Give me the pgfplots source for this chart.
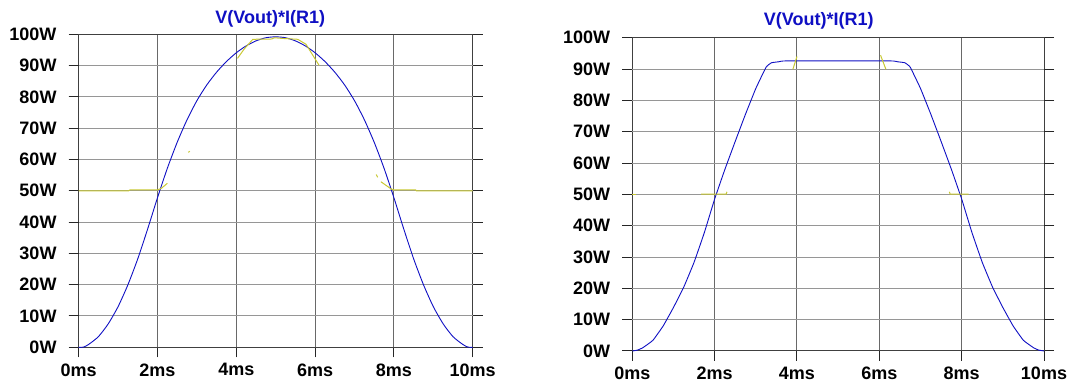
\documentclass[border=0pt]{standalone}
\usepackage{fontspec}
\setmainfont{Liberation Sans}
\usepackage{pgfplots}
\pgfplotsset{compat=1.18}
\definecolor{trblue}{RGB}{15,15,195}
\definecolor{tryel}{RGB}{200,200,50}
\definecolor{vgrid}{RGB}{105,105,105}
\definecolor{hgrid}{RGB}{150,150,150}
\pgfplotsset{
  spice/.style={
    anchor=south west, scale only axis,
    xmin=0, xmax=10, ymin=0, ymax=100,
    xtick={0,2,4,6,8,10}, ytick={0,10,20,30,40,50,60,70,80,90,100},
    xticklabels={0ms,2ms,4ms,6ms,8ms,10ms},
    yticklabels={0W,10W,20W,30W,40W,50W,60W,70W,80W,90W,100W},
    tick align=outside, major tick length=10pt,
    xtick pos=left, ytick pos=both,
    xmajorgrids=true, ymajorgrids=false,
    major grid style={vgrid, line width=1pt},
    extra y ticks={10,20,30,40,50,60,70,80,90},
    extra y tick labels={},
    extra y tick style={ymajorgrids=true, major grid style={hgrid, line width=1pt}},
    tick style={black!85, line width=1pt},
    axis line style={black!75, line width=1pt},
    ticklabel style={font=\bfseries\fontsize{18}{20}\selectfont, text=black},
    yticklabel style={inner sep=0pt, xshift=-12pt},
    xticklabel style={inner sep=0pt, yshift=-6pt},
    title style={font=\bfseries\fontsize{18}{20}\selectfont, text=trblue, anchor=base, inner sep=0pt},
    clip=false,
  },
  blue/.style={trblue, line width=0.9pt, mark=none, smooth, tension=0.4},
  yel/.style={tryel, line width=1pt, mark=none},
}
\begin{document}
\begin{tikzpicture}
\path[use as bounding box] (0,0) rectangle (1085pt,385pt);
% ---------- left ----------
\begin{axis}[spice, at={(78.7pt,37.7pt)}, width=394pt, height=313pt,
  title={V(Vout)*I(R1)}, title style={at={(0.486,1)}, yshift=5pt}]
\addplot[blue] coordinates {
(0,0) (0.12,0.05) (0.25,0.9) (0.5,3.4) (0.75,7.5) (1.0,13.0) (1.25,20.0) (1.5,28.3)
(1.75,37.8) (2.0,47.8) (2.25,57.2) (2.5,65.5) (2.75,72.7) (3.0,78.8) (3.25,83.8)
(3.5,87.9) (3.75,91.3) (4.0,94.1) (4.25,96.3) (4.5,97.9) (4.75,98.9) (5.0,99.2)
(5.25,98.9) (5.5,97.9) (5.75,96.3) (6.0,94.1) (6.25,91.3) (6.5,87.9) (6.75,83.8)
(7.0,78.8) (7.25,72.7) (7.5,65.5) (7.75,57.2) (8.0,47.8) (8.25,37.8) (8.5,28.3)
(8.75,20.0) (9.0,13.0) (9.25,7.5) (9.5,3.4) (9.75,0.9) (9.88,0.05) (10,0)
};
\addplot[yel] coordinates {(0,50) (1.27,50) (1.3,50.3) (2.0,50.3) (2.1,50.8) (2.25,52.4)};
\addplot[yel] coordinates {(2.78,62.3) (2.82,62.6)};
\addplot[yel] coordinates {(4.03,92.3) (4.2,95.3) (4.42,98.4) (4.9,98.5) (4.97,98.9) (5.15,98.7) (5.56,98.4) (5.77,96.8) (6.1,90.1)};
\addplot[yel] coordinates {(7.55,55.2) (7.59,54.3)};
\addplot[yel] coordinates {(7.67,52.9) (7.94,50.5) (8.0,50.3) (8.55,50.3) (8.57,50) (10,50)};
\end{axis}
% ---------- right ----------
\begin{axis}[spice, at={(632.3pt,34pt)}, width=411.7pt, height=313.3pt,
  title={V(Vout)*I(R1)}, title style={at={(0.453,1)}, yshift=6pt}]
\addplot[blue, tension=0.2] coordinates {
(0,0) (0.13,0.3) (0.25,1.0) (0.5,3.4) (0.75,8.0) (1.0,13.9) (1.25,20.4) (1.5,28.3)
(1.75,37.8) (2.0,48.5) (2.25,58.0) (2.5,66.9) (2.75,75.6) (3.0,83.8) (3.25,90.6)
(3.38,92.0) (3.55,92.3) (3.75,92.6) (6.25,92.6) (6.45,92.3)
(6.62,92.0) (6.75,90.6) (7.0,83.8) (7.25,75.6) (7.5,66.9) (7.75,58.0) (8.0,48.5)
(8.25,37.8) (8.5,28.3) (8.75,20.4) (9.0,13.9) (9.25,8.0) (9.5,3.4) (9.75,1.0)
(9.87,0.3) (10,0)
};
\addplot[yel] coordinates {(0,50.1) (0.1,50.1)};
\addplot[yel] coordinates {(1.67,50.1) (2.28,50.1) (2.3,50.8)};
\addplot[yel] coordinates {(3.9,89.9) (4.0,94.0)};
\addplot[yel] coordinates {(6.03,94.4) (6.16,89.9)};
\addplot[yel] coordinates {(7.7,50.8) (7.72,50.1) (8.17,50.1)};
\end{axis}
\end{tikzpicture}
\end{document}
